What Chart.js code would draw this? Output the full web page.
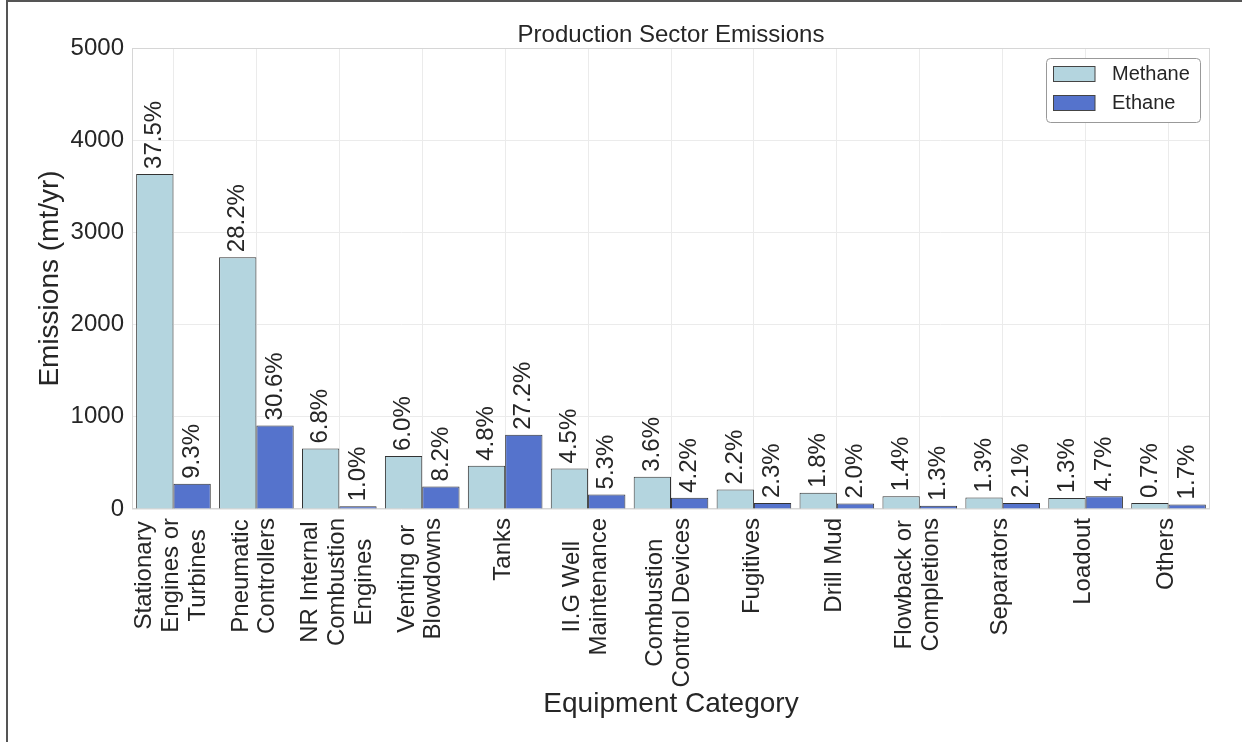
<!DOCTYPE html>
<html lang="en">
<head>
<meta charset="UTF-8">
<title>Production Sector Emissions</title>
<script src="https://cdn.jsdelivr.net/npm/chart.js"></script>
<style>
  html, body { margin: 0; padding: 0; background: #fff; }
  #wrap { width: 1242px; height: 742px; }
</style>
</head>
<body>
<div id="wrap"><canvas id="chart" width="1242" height="742"></canvas></div>
<script>
// category labels, one array of lines per category
const categories = [
  ['Stationary', 'Engines or', 'Turbines'],
  ['Pneumatic', 'Controllers'],
  ['NR Internal', 'Combustion', 'Engines'],
  ['Venting or', 'Blowdowns'],
  ['Tanks'],
  ['II.G Well', 'Maintenance'],
  ['Combustion', 'Control Devices'],
  ['Fugitives'],
  ['Drill Mud'],
  ['Flowback or', 'Completions'],
  ['Separators'],
  ['Loadout'],
  ['Others']
];

const methane = [3634, 2731, 655, 575, 468, 440, 350, 212, 176, 137, 124, 120, 66];
const ethane = [274, 906, 29, 245, 805, 158, 122, 65, 60, 36, 64, 137, 50];

const methanePct = [37.5, 28.2, 6.8, 6.0, 4.8, 4.5, 3.6, 2.2, 1.8, 1.4, 1.3, 1.3, 0.7];
const ethanePct = [9.3, 30.6, 1.0, 8.2, 27.2, 5.3, 4.2, 2.3, 2.0, 1.3, 2.1, 4.7, 1.7];

const yTicks = [0, 1000, 2000, 3000, 4000, 5000];

const TITLE = 'Production Sector Emissions';
const FONT = "'Liberation Sans', Arial, sans-serif";
const TEXT = '#262626';
const METHANE_COLOR = '#b4d5df';
const ETHANE_COLOR = '#5573cc';

const extras = {
  id: 'extras',
  beforeDraw(chart) {
    const ctx = chart.ctx;
    ctx.save();
    ctx.fillStyle = '#fff';
    ctx.fillRect(0, 0, chart.width, chart.height);
    ctx.restore();
  },
  beforeDatasetsDraw(chart) {
    // light frame round the plot
    const { ctx, chartArea: a } = chart;
    ctx.save();
    ctx.strokeStyle = '#d6d6d6';
    ctx.lineWidth = 1;
    ctx.strokeRect(a.left + 0.5, a.top + 0.5, a.right - a.left - 1, a.bottom - a.top - 1);
    ctx.restore();
  },
  afterDatasetsDraw(chart) {
    // percentage labels above every bar
    const ctx = chart.ctx;
    const pcts = [methanePct, ethanePct];
    chart.data.datasets.forEach((ds, d) => {
      chart.getDatasetMeta(d).data.forEach((bar, i) => {
        ctx.save();
        ctx.translate(bar.x, bar.y - 5);
        ctx.rotate(-Math.PI / 2);
        ctx.font = '24px ' + FONT;
        ctx.fillStyle = TEXT;
        ctx.textAlign = 'left';
        ctx.textBaseline = 'middle';
        ctx.fillText(pcts[d][i].toFixed(1) + '%', 0, 0);
        ctx.restore();
      });
    });
  },
  afterDraw(chart) {
    const ctx = chart.ctx;
    const a = chart.chartArea;
    const xs = chart.scales.x;

    // title, centred over the plot area
    ctx.save();
    ctx.font = '24px ' + FONT;
    ctx.fillStyle = TEXT;
    ctx.textAlign = 'center';
    ctx.textBaseline = 'middle';
    ctx.fillText(TITLE, (a.left + a.right) / 2, 35);
    ctx.restore();

    // rotated, centre-aligned category labels
    ctx.save();
    ctx.font = '24px ' + FONT;
    ctx.fillStyle = TEXT;
    ctx.textAlign = 'center';
    ctx.textBaseline = 'middle';
    categories.forEach((lines, i) => {
      const px = xs.getPixelForTick(i) - 2;
      const w = Math.max(...lines.map(l => ctx.measureText(l).width));
      const cy = xs.top + 9 + w / 2;
      lines.forEach((line, j) => {
        const cx = px + (j - (lines.length - 1) / 2) * 26.7;
        ctx.save();
        ctx.translate(cx, cy);
        ctx.rotate(-Math.PI / 2);
        ctx.fillText(line, 0, 0);
        ctx.restore();
      });
    });
    ctx.restore();

    // legend box, top right inside the plot
    const bx = 1046, by = 58.5, bw = 154, bh = 64;
    ctx.save();
    ctx.beginPath();
    ctx.roundRect(bx + 0.5, by, bw, bh, 4);
    ctx.fillStyle = '#fff';
    ctx.fill();
    ctx.strokeStyle = '#999';
    ctx.lineWidth = 1;
    ctx.stroke();
    ctx.font = '20px ' + FONT;
    ctx.textAlign = 'left';
    ctx.textBaseline = 'middle';
    chart.data.datasets.forEach((ds, d) => {
      const sy = 66.5 + d * 29;
      ctx.fillStyle = ds.backgroundColor;
      ctx.fillRect(1053.5, sy, 41.5, 15);
      ctx.strokeStyle = '#444';
      ctx.strokeRect(1053.5, sy, 41.5, 15);
      ctx.fillStyle = TEXT;
      ctx.fillText(ds.label, 1112, sy + 8);
    });
    ctx.restore();

    // figure border (left and top)
    ctx.save();
    ctx.fillStyle = '#555';
    ctx.fillRect(6, 0, 2, chart.height);
    ctx.fillRect(6, 0, chart.width - 6, 2);
    ctx.restore();
  }
};

new Chart(document.getElementById('chart'), {
  type: 'bar',
  data: {
    labels: categories.map(l => l.join(' ')),
    datasets: [
      {
        label: 'Methane',
        data: methane,
        backgroundColor: METHANE_COLOR,
        borderColor: '#333',
        borderWidth: 1,
        barPercentage: 1,
        categoryPercentage: 0.9
      },
      {
        label: 'Ethane',
        data: ethane,
        backgroundColor: ETHANE_COLOR,
        borderColor: '#333',
        borderWidth: 1,
        barPercentage: 1,
        categoryPercentage: 0.9
      }
    ]
  },
  options: {
    responsive: false,
    animation: false,
    layout: { padding: { left: 0, right: 32, top: 48, bottom: 0 } },
    plugins: {
      legend: { display: false },
      tooltip: { enabled: false },
      title: { display: false }
    },
    scales: {
      x: {
        grid: { offset: false, color: '#ebebeb', drawTicks: false },
        border: { display: false },
        ticks: { display: false },
        title: {
          display: true,
          text: 'Equipment Category',
          color: TEXT,
          font: { family: FONT, size: 28 },
          padding: { top: 0, bottom: 21 }
        },
        afterFit(s) { s.height = 233; }
      },
      y: {
        min: yTicks[0],
        max: yTicks[yTicks.length - 1],
        afterBuildTicks(s) { s.ticks = yTicks.map(v => ({ value: v })); },
        ticks: {
          color: TEXT,
          font: { family: FONT, size: 24 },
          padding: 8,
          callback: v => String(v)
        },
        grid: { color: '#ebebeb', drawTicks: false },
        border: { display: false },
        title: {
          display: true,
          text: 'Emissions (mt/yr)',
          color: TEXT,
          font: { family: FONT, size: 28 },
          padding: { top: 33, bottom: 0 }
        },
        afterFit(s) { s.width = 132; }
      }
    }
  },
  plugins: [extras]
});
</script>
</body>
</html>
